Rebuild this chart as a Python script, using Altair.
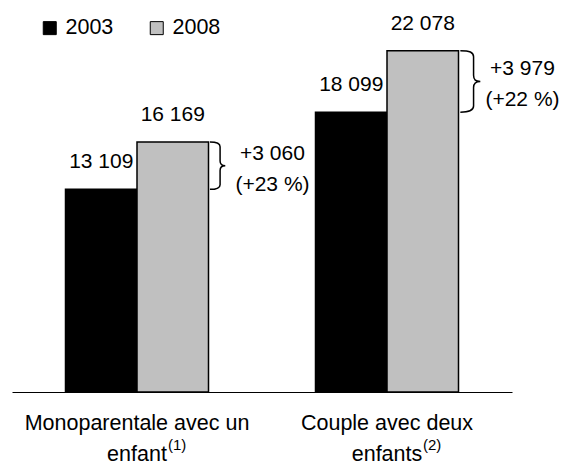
import altair as alt
import pandas as pd

# ---- data ----
categories = ["Monoparentale avec un\nenfant", "Couple avec deux\nenfants"]
footnotes = ["(1)", "(2)"]
years = ["2003", "2008"]
values_2003 = [13109, 18099]
values_2008 = [16169, 22078]
colors = ["#000000", "#C0C0C0"]

Y_MAX = 24000
W, H = 500, 371
FONT = "Liberation Sans"


def fr(n):
    return f"{n:,}".replace(",", " ")


rows = []
for c, a, b in zip(categories, values_2003, values_2008):
    rows.append({"category": c, "year": years[0], "value": a, "label": fr(a)})
    rows.append({"category": c, "year": years[1], "value": b, "label": fr(b)})
bars_df = pd.DataFrame(rows)

ann_rows = []
for c, a, b in zip(categories, values_2003, values_2008):
    d = b - a
    pct = round(d / a * 100)
    ann_rows.append({"category": c, "v2003": a, "v2008": b, "diff": d,
                     "mid": (a + b) / 2,
                     "text": f"+{fr(d)}\n(+{pct} %)"})
ann_df = pd.DataFrame(ann_rows)

foot_df = pd.DataFrame({"category": categories, "note": footnotes})

x_scale = alt.Scale(domain=categories, paddingInner=0.428, paddingOuter=0.214)
y_scale = alt.Scale(domain=[0, Y_MAX])
off_scale = alt.Scale(domain=years, paddingInner=0, paddingOuter=0)

x_axis = alt.Axis(title=None, labelAngle=0, ticks=False, domainColor="black", domainWidth=1.2,
                  labelFont=FONT, labelFontSize=21.5, labelColor="black", labelPadding=20,
                  labelLineHeight=31, labelLimit=0, labelExpr="split(datum.label, '\\n')")

bars = alt.Chart(bars_df).mark_bar(stroke="black", strokeWidth=1.5).encode(
    x=alt.X("category:N", scale=x_scale, axis=x_axis),
    xOffset=alt.XOffset("year:N", scale=off_scale),
    y=alt.Y("value:Q", scale=y_scale, axis=None),
    fill=alt.Fill("year:N", scale=alt.Scale(domain=years, range=colors),
                  legend=alt.Legend(title=None, orient="none", legendX=27, legendY=-4,
                                    direction="horizontal", symbolType="square",
                                    symbolSize=169, symbolStrokeColor="black",
                                    symbolStrokeWidth=1, labelFont=FONT, labelFontSize=21.5,
                                    labelColor="black", labelOffset=5, columnPadding=32,
                                    padding=0)),
)

value_labels = alt.Chart(bars_df).mark_text(
    font=FONT, fontSize=21, color="black", baseline="alphabetic", dy=-21
).encode(
    x=alt.X("category:N", scale=x_scale, axis=x_axis),
    xOffset=alt.XOffset("year:N", scale=off_scale),
    y=alt.Y("value:Q", scale=y_scale, axis=None),
    text="label:N",
)

BRACE = ("M 0.06 -1 C 0.36 -1 0.49 -0.95 0.49 -0.8 L 0.49 -0.2 "
         "C 0.49 -0.05 0.56 0 0.71 0 C 0.56 0 0.49 0.05 0.49 0.2 "
         "L 0.49 0.8 C 0.49 0.95 0.36 1 0.06 1")

braces = alt.Chart(ann_df).mark_point(
    shape=BRACE, filled=False, stroke="black", strokeWidth=1.5, opacity=1
).encode(
    x=alt.X("category:N", scale=x_scale, axis=x_axis, bandPosition=1),
    y=alt.Y("mid:Q", scale=y_scale, axis=None),
    size=alt.Size("diff:Q", scale=alt.Scale(type="pow", exponent=2, domain=[0, Y_MAX],
                                            range=[0, H * H]), legend=None),
)

ann_text = alt.Chart(ann_df).mark_text(
    font=FONT, fontSize=21, color="black", baseline="alphabetic", align="center",
    lineBreak="\n", lineHeight=31, dx=64, dy=-6
).encode(
    x=alt.X("category:N", scale=x_scale, axis=x_axis, bandPosition=1),
    y=alt.Y("mid:Q", scale=y_scale, axis=None),
    text="text:N",
)

# superscript footnote calls after the second line of each category label
sup_dx = [31, 36]
sups = [
    alt.Chart(foot_df.iloc[[i]]).mark_text(
        font=FONT, fontSize=15, color="black", baseline="alphabetic", align="left", dx=dx
    ).encode(
        x=alt.X("category:N", scale=x_scale, axis=x_axis),
        y=alt.value(H + 58),
        text="note:N",
    )
    for i, dx in enumerate(sup_dx)
]

chart = alt.layer(bars, value_labels, braces, ann_text, *sups).properties(
    width=W, height=H,
    autosize=alt.AutoSizeParams(type="none"),
    padding={"left": 4, "top": 13, "right": 52, "bottom": 73},
).configure_view(strokeWidth=0)

chart.save("out.html", embed_options={"renderer": "svg", "actions": False})
